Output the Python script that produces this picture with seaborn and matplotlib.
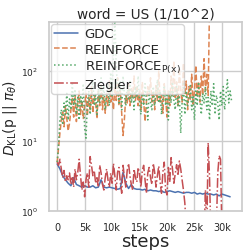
import numpy as np
import pandas as pd
import matplotlib
matplotlib.use("Agg")
import matplotlib.pyplot as plt
import seaborn as sns
from matplotlib.ticker import FuncFormatter

# ---- data ----
gdc_steps = list(range(0, 32000, 500))
gdc = [4.7, 4.0, 3.2, 2.8, 2.5, 2.3, 3.0, 2.4, 2.3, 2.2,
       2.3, 2.2, 2.2, 2.3, 2.15, 2.2, 2.8, 2.2, 2.15, 2.2,
       2.15, 2.1, 2.05, 2.1, 3.6, 2.5, 2.1, 2.4, 2.1, 2.05,
       2.05, 2.0, 2.05, 1.95, 2.0, 1.95, 1.95, 1.9, 1.95, 1.85,
       1.9, 1.95, 1.9, 1.85, 1.9, 1.85, 1.8, 1.85, 1.85, 1.8,
       1.85, 1.75, 1.8, 1.75, 1.8, 1.75, 1.75, 1.7, 1.75, 1.65,
       1.75, 1.7, 1.65, 1.6]

reinforce_steps = list(range(0, 28000, 250))
reinforce = [5, 8, 13, 20, 26, 16, 32, 21, 14, 18, 28, 42,
             22, 45, 19, 35, 52, 24, 38, 21, 32, 48, 23, 42,
             28, 60, 25, 45, 36, 21, 52, 32, 66, 28, 42, 25,
             48, 32, 72, 36, 45, 28, 60, 38, 80, 32, 52, 25,
             12, 21, 45, 35, 66, 32, 56, 42, 85, 38, 62, 32,
             52, 28, 70, 38, 19, 36, 60, 45, 80, 36, 52, 28,
             62, 38, 100, 36, 45, 25, 66, 42, 22, 52, 32, 85,
             45, 140, 42, 70, 32, 110, 52, 36, 130, 45, 72, 28,
             60, 38, 90, 32, 52, 120, 42, 70, 36, 85, 45, 150,
             52, 90, 45, 900]

reinforce_px_steps = list(range(0, 32000, 250))
reinforce_px = [5, 9, 20, 28, 17, 35, 24, 48, 20, 40, 28, 70,
                32, 55, 24, 42, 20, 45, 32, 66, 15, 11, 35, 52,
                24, 42, 75, 32, 48, 24, 56, 35, 80, 38, 62, 28,
                45, 66, 32, 95, 42, 160, 600, 120, 52, 35, 70, 28,
                85, 45, 32, 62, 38, 75, 35, 52, 28, 60, 42, 85,
                35, 24, 48, 32, 66, 38, 20, 52, 35, 28, 60, 32,
                45, 75, 35, 52, 24, 42, 62, 32, 48, 20, 52, 35,
                70, 38, 28, 60, 32, 45, 13, 35, 66, 24, 52, 32,
                42, 62, 28, 45, 20, 52, 32, 70, 38, 24, 48, 35,
                60, 28, 42, 20, 52, 32, 66, 24, 45, 35, 20, 52,
                32, 60, 28, 45, 75, 35, 52, 38]

ziegler_steps = list(range(0, 30500, 250))
ziegler = [5.0, 4.5, 5.5, 4.0, 3.0, 3.8, 2.6, 3.2, 2.8, 3.5, 2.4, 3.0,
           2.2, 4.0, 2.8, 3.6, 5.5, 3.2, 2.0, 2.6, 1.6, 2.8, 3.5, 2.2,
           6.0, 4.5, 3.2, 3.8, 2.5, 3.0, 2.2, 4.5, 3.5, 2.4, 2.0, 3.0,
           4.0, 2.8, 2.2, 3.5, 2.5, 4.8, 3.2, 2.0, 3.6, 4.2, 2.6, 1.8,
           4.5, 3.0, 2.2, 3.8, 4.8, 3.2, 2.4, 2.0, 4.0, 3.0, 2.6, 4.2,
           3.4, 2.2, 3.8, 4.5, 2.8, 1.8, 3.5, 4.2, 3.0, 2.4, 4.8, 3.6,
           2.2, 3.2, 4.4, 2.6, 1.8, 3.6, 5.0, 2.0, 1.7, 4.2, 2.6, 5.8,
           4.0, 2.5, 3.4, 4.6, 3.2, 5.2, 4.0, 2.8, 2.0, 1.3, 0.6, 0.3,
           0.3, 0.3, 0.3, 0.3, 0.3, 0.3, 0.3, 0.3, 0.3, 0.3, 0.3, 0.4,
           2.0, 0.5, 9.5, 3.0, 0.4, 0.3, 0.5, 0.3, 0.6, 3.5, 6.2, 5.5,
           0.5, 0.3]

# ---- plot ----
sns.set_theme(style="whitegrid")
pal = sns.color_palette("deep")

fig = plt.figure(figsize=(2.51, 2.51), dpi=100)
ax = fig.add_axes([0.195, 0.155, 0.77, 0.753])

lw = 1.1
sns.lineplot(x=gdc_steps, y=gdc, ax=ax, color=pal[0], lw=lw, linestyle="-", label="GDC")
sns.lineplot(x=reinforce_steps, y=reinforce, ax=ax, color=pal[1], lw=lw, linestyle="--", label="REINFORCE")
sns.lineplot(x=reinforce_px_steps, y=reinforce_px, ax=ax, color=pal[2], lw=lw, linestyle=":",
             label=r"REINFORCE$_{\mathrm{P(x)}}$")
sns.lineplot(x=ziegler_steps, y=ziegler, ax=ax, color=pal[3], lw=lw, linestyle="-.", label="Ziegler")

ax.set_yscale("log")
ax.set_ylim(1, 500)
ax.set_xlim(-1500, 33700)
ax.set_xticks([0, 5000, 10000, 15000, 20000, 25000, 30000])
ax.xaxis.set_major_formatter(FuncFormatter(lambda v, p: "0" if v == 0 else f"{int(v/1000)}k"))
ax.tick_params(axis="x", labelsize=7, pad=2)
ax.tick_params(axis="y", labelsize=6.5, pad=2)
ax.tick_params(axis="y", which="minor", left=False)

ax.set_title("word = US (1/10^2)", fontsize=9.8, pad=3)
ax.set_xlabel("steps", fontsize=13, labelpad=0)
ax.set_ylabel(r"$D_{\mathrm{KL}}$(p || $\pi_\theta$)", fontsize=10, labelpad=1)

leg = ax.legend(loc="upper left", fontsize=9.5, borderaxespad=0.15, handlelength=1.8,
                labelspacing=0.2, borderpad=0.25, handletextpad=0.5, framealpha=0.8)

fig.savefig("out.png", dpi=100)
